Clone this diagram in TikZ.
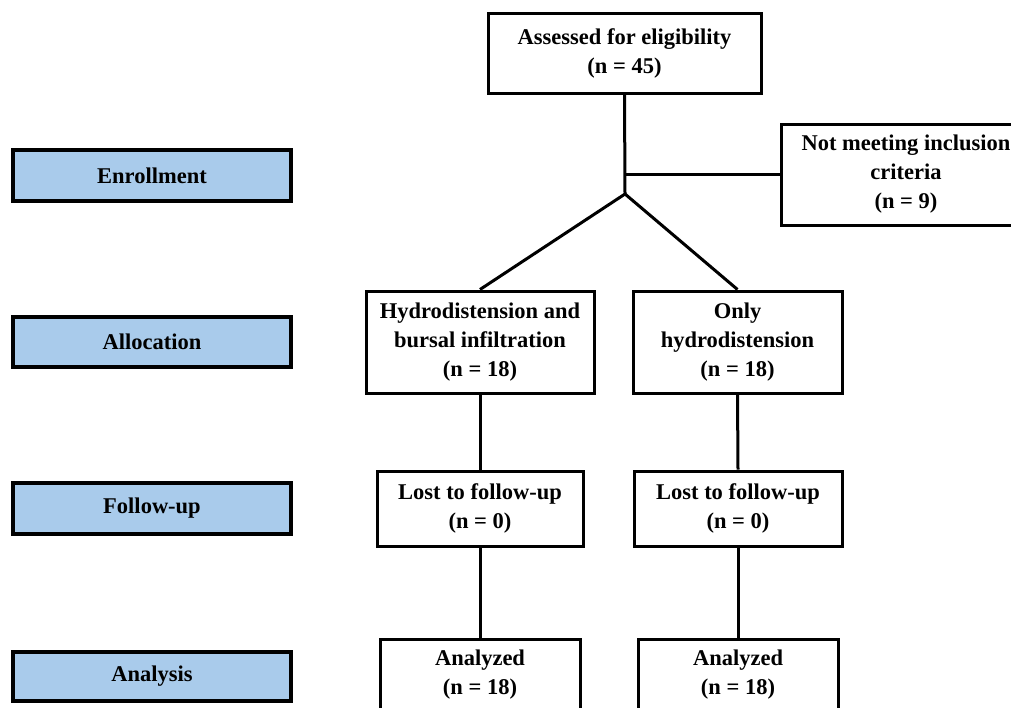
\documentclass[tikz,border=0pt]{standalone}
\usepackage{fontspec}
\setmainfont{Liberation Serif}
\definecolor{phaseblue}{RGB}{169,203,235}
\begin{document}
\begin{tikzpicture}[x=1pt,y=-1pt,
  box/.style={draw, line width=3pt, fill=white, align=center, inner sep=0pt,
    font=\bfseries\fontsize{22.5}{29}\selectfont},
  phase/.style={box, fill=phaseblue, line width=3.4pt},
  conn/.style={line width=3pt}]
\useasboundingbox (0,0) rectangle (1011,707);
\clip (0,0) rectangle (1011,707);
% phase labels
\node[phase, minimum width=278pt, minimum height=51pt] (enr) at (152,175.5) {Enrollment};
\node[phase, minimum width=278pt, minimum height=50pt] (all) at (152,342) {Allocation};
\node[phase, minimum width=278pt, minimum height=51pt] (fol) at (152,508.5) {Follow-up};
\node[phase, minimum width=278pt, minimum height=49pt] (ana) at (152,676.5) {Analysis};
% flow boxes
\node[box, minimum width=273pt, minimum height=80pt] (top) at (624.5,53) {Assessed for eligibility\\(n = 45)};
\node[box, minimum width=250pt, minimum height=101pt] (excl) at (906,174.5) {Not meeting inclusion\\criteria\\(n = 9)};
\coordinate (junc) at (625,194);
\node[box, minimum width=228pt, minimum height=102pt] (a1) at (480,342) {Hydrodistension and\\bursal infiltration\\(n = 18)};
\node[box, minimum width=209pt, minimum height=102pt] (a2) at (737.5,342) {Only\\hydrodistension\\(n = 18)};
\node[box, minimum width=206pt, minimum height=75pt] (f1) at (480,508.5) {Lost to follow-up\\(n = 0)};
\node[box, minimum width=208pt, minimum height=75pt] (f2) at (738,508.5) {Lost to follow-up\\(n = 0)};
\node[box, minimum width=200pt, minimum height=72pt] (n1) at (480,675) {Analyzed\\(n = 18)};
\node[box, minimum width=200pt, minimum height=72pt] (n2) at (738,675) {Analyzed\\(n = 18)};
% connectors
\draw[conn] (top.south) -- (junc);
\draw[conn] (excl.west) -- (excl.west -| top.south);
\draw[conn] (junc) -- (a1.north);
\draw[conn] (junc) -- (a2.north);
\draw[conn] (a1.south) -- (f1.north);
\draw[conn] (a2.south) -- (f2.north);
\draw[conn] (f1.south) -- (n1.north);
\draw[conn] (f2.south) -- (n2.north);
\end{tikzpicture}
\end{document}
